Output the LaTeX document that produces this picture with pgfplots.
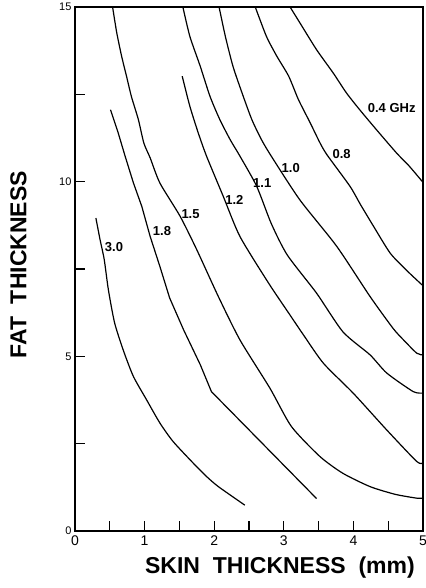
\documentclass[border=0pt]{standalone}
\usepackage{fontspec}
\setmainfont{Liberation Sans}
\usepackage{pgfplots}
\pgfplotsset{compat=1.18}
\usetikzlibrary{calc}

\pgfplotsset{curve/.style={black, solid, line width=1.2pt, mark=none, smooth, tension=0.4}}

\begin{document}
\begin{tikzpicture}
\begin{axis}[
    name=main,
    scale only axis,
    width=348pt, height=524pt,
    xmin=0, xmax=5, ymin=0, ymax=15,
    xtick={0,1,2,3,4,5}, ytick={0,5,10,15},
    minor x tick num=1, minor y tick num=1,
    tick pos=left, tick align=inside,
    major tick length=10pt, minor tick length=10pt,
    tick style={black, line width=1.2pt},
    axis line style={line width=1.6pt},
    /pgf/number format/assume math mode=true,
    xticklabel style={font=\fontsize{14}{14}\selectfont, yshift=-1pt},
    yticklabel style={font=\fontsize{11}{11}\selectfont},
    xlabel={SKIN\ \ THICKNESS\ \ (mm)},
    ylabel={FAT\ \ THICKNESS},
    label style={font=\fontsize{23}{23}\bfseries\selectfont},
    xlabel style={at={(axis description cs:0.589,-0.0706)}, anchor=center},
    ylabel style={at={(axis description cs:-0.1624,0.508)}, anchor=center},
]

% 3.0 GHz
\addplot[curve] coordinates {
(0.30,8.96) (0.36,8.34) (0.42,7.77) (0.48,6.90) (0.57,5.95) (0.70,5.14)
(0.84,4.42) (1.03,3.75) (1.22,3.09) (1.41,2.56) (1.70,1.94) (1.89,1.56)
(2.06,1.27) (2.44,0.74)
};
% 1.8 GHz (kink near 2 mm)
\addplot[curve, sharp plot] coordinates {
(0.51,12.06) (0.62,11.40) (0.72,10.73) (0.84,9.96) (0.96,9.29) (1.08,8.43)
(1.22,7.57) (1.36,6.67) (1.56,5.76) (1.80,4.76) (1.96,3.99) (3.47,0.93)
};
% 1.5 GHz
\addplot[curve] coordinates {
(0.54,15.0) (0.60,14.26) (0.67,13.59) (0.74,13.02) (0.81,12.44) (0.91,11.78)
(0.99,11.10) (1.08,10.68) (1.22,9.96) (1.51,9.01) (1.75,8.05) (2.06,6.71)
(2.37,5.47) (2.80,4.09) (3.11,2.99) (3.52,2.13) (3.85,1.65) (4.24,1.27)
(4.60,1.05) (4.91,0.94) (5.0,0.94)
};
% 1.2 GHz
\addplot[curve] coordinates {
(1.54,13.02) (1.65,12.16) (1.77,11.40) (1.89,10.73) (2.13,9.58) (2.37,8.43)
(2.78,7.10) (3.09,6.18) (3.28,5.62) (3.57,4.80) (4.00,3.94) (4.48,2.89)
(4.91,1.99) (5.0,1.95)
};
% 1.1 GHz
\addplot[curve] coordinates {
(1.55,15.0) (1.65,14.16) (1.80,13.30) (1.94,12.44) (2.08,11.78) (2.23,11.20)
(2.37,10.73) (2.61,9.87) (2.82,8.80) (3.05,7.90) (3.47,6.81) (3.85,5.70)
(4.24,5.04) (4.48,4.52) (4.86,3.99) (5.0,3.95)
};
% 1.0 GHz
\addplot[curve] coordinates {
(2.07,15.0) (2.16,14.16) (2.27,13.30) (2.40,12.54) (2.54,11.78) (2.68,11.20)
(2.82,10.73) (3.23,9.48) (3.76,8.15) (4.24,6.71) (4.57,5.80) (4.72,5.47)
(4.91,5.09) (5.0,5.04)
};
% 0.8 GHz
\addplot[curve] coordinates {
(2.59,15.0) (2.75,14.16) (2.90,13.59) (3.07,13.02) (3.21,12.35) (3.38,11.68)
(3.52,11.11) (3.62,10.77) (3.95,9.87) (4.10,9.35) (4.29,8.72) (4.53,7.95)
(4.77,7.45) (5.0,7.02)
};
% 0.4 GHz
\addplot[curve] coordinates {
(3.09,15.0) (3.23,14.55) (3.47,13.78) (3.71,13.11) (3.90,12.54) (4.09,12.06)
(4.33,11.49) (4.62,10.82) (4.80,10.45) (5.0,9.98)
};

\begin{scope}[every node/.style={font=\fontsize{13}{13}\bfseries\selectfont, inner sep=0pt}]
\node at (axis cs:0.56,8.12) {3.0};
\node at (axis cs:1.25,8.58) {1.8};
\node at (axis cs:1.66,9.08) {1.5};
\node at (axis cs:2.29,9.48) {1.2};
\node at (axis cs:2.69,9.96) {1.1};
\node at (axis cs:3.10,10.39) {1.0};
\node at (axis cs:3.83,10.80) {0.8};
\node at (axis cs:4.55,12.12) {0.4 GHz};
\end{scope}
\end{axis}
\pgfresetboundingbox
\path ($(main.south west)+(-75pt,-57pt)$) rectangle ($(main.north east)+(2pt,7pt)$);
\end{tikzpicture}
\end{document}
